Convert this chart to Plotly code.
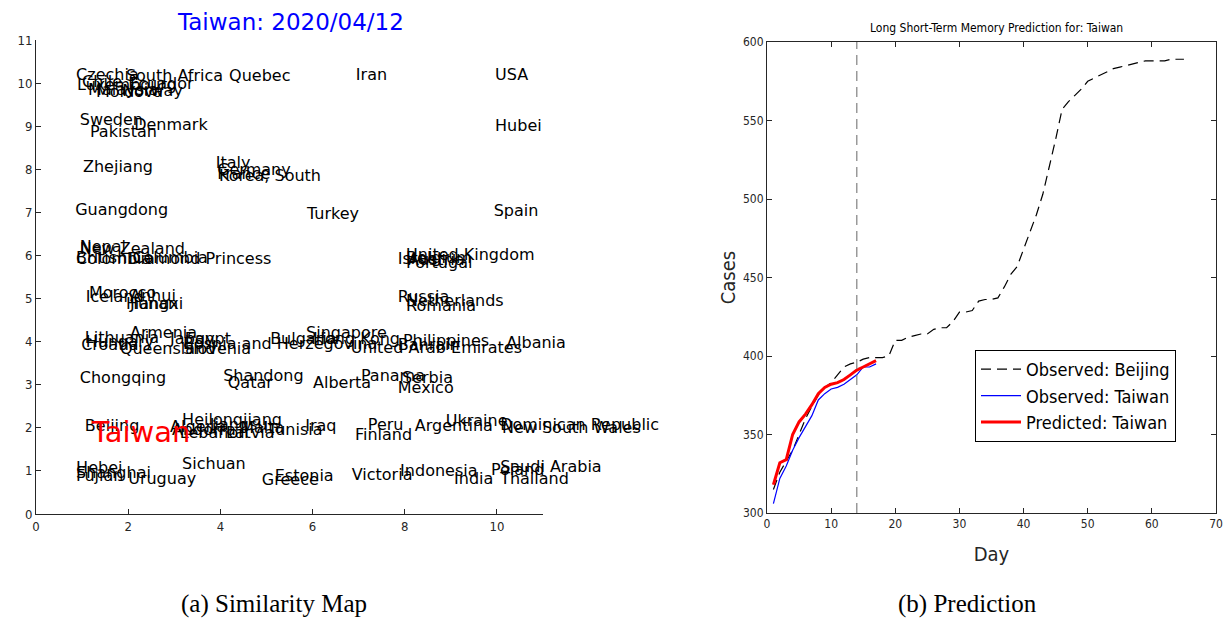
import plotly.graph_objects as go

# ---------------- Data: similarity map ----------------
names = ["Czechia", "Luxembourg", "Chile", "Malaysia", "Ecuador", "Norway", "Moldova",
         "South Africa", "Quebec", "Iran", "USA", "Sweden", "Pakistan", "Denmark", "Hubei",
         "Zhejiang", "Italy", "Germany", "France", "Korea, South", "Guangdong", "Turkey", "Spain",
         "Nepal", "New Zealand", "British Columbia", "Colombia", "Diamond Princess",
         "United Kingdom", "Israel", "Belgium", "Portugal", "Austria",
         "Morocco", "Iceland", "Anhui", "Hunan", "Jiangxi", "Russia", "Netherlands", "Romania",
         "Lithuania", "Hungary", "Croatia", "Armenia", "Queensland", "Japan", "Egypt",
         "Bosnia and Herzegovina", "Slovenia", "Bulgaria", "Singapore", "Hong Kong",
         "United Arab Emirates", "Philippines", "Bahrain", "Albania",
         "Chongqing", "Shandong", "Qatar", "Alberta", "Panama", "Serbia", "Mexico",
         "Beijing", "Heilongjiang", "Algeria", "Andorra", "Lebanon", "Jiangsu", "Latvia",
         "Tunisia", "Malta", "Iraq", "Peru", "Finland", "Argentina", "Ukraine",
         "Dominican Republic", "New South Wales",
         "Hebei", "Shanghai", "Fujian", "Sichuan", "Uruguay", "Estonia", "Greece", "Victoria",
         "Indonesia", "India", "Poland", "Saudi Arabia", "Thailand"]
map_x = [0.87, 0.89, 1.00, 1.13, 2.00, 1.87, 1.30,
         1.95, 4.19, 6.94, 9.96, 0.95, 1.17, 2.13, 9.96,
         1.02, 3.90, 3.93, 3.93, 3.97, 0.85, 5.88, 9.93,
         0.95, 0.95, 0.87, 0.87, 2.00,
         8.03, 7.85, 8.03, 8.03, 8.07,
         1.15, 1.08, 2.04, 1.95, 2.04, 7.85, 8.03, 8.03,
         1.06, 1.08, 0.98, 2.04, 1.82, 2.91, 3.23,
         3.19, 3.19, 5.08, 5.86, 6.01,
         6.83, 7.96, 7.85, 10.20,
         0.95, 4.06, 4.16, 6.01, 7.05, 7.94, 7.85,
         1.06, 3.17, 2.91, 2.95, 3.12, 3.77, 4.12,
         5.03, 4.43, 5.84, 7.20, 6.92, 8.22, 8.89,
         10.07, 10.11,
         0.87, 0.87, 0.87, 3.17, 2.00, 5.18, 4.90, 6.85,
         7.90, 9.07, 9.87, 10.07, 10.07]
map_y = [10.16, 9.93, 10.00, 9.81, 9.95, 9.79, 9.77,
         10.14, 10.14, 10.16, 10.16, 9.12, 8.84, 9.00, 8.98,
         8.03, 8.12, 7.96, 7.87, 7.82, 7.03, 6.94, 7.01,
         6.17, 6.13, 5.92, 5.89, 5.89,
         5.99, 5.89, 5.92, 5.80, 5.87,
         5.10, 5.01, 5.03, 4.85, 4.85, 5.01, 4.92, 4.80,
         4.06, 3.97, 3.90, 4.18, 3.81, 4.04, 4.04,
         3.92, 3.81, 4.04, 4.18, 4.04,
         3.83, 3.99, 3.90, 3.94,
         3.13, 3.18, 3.02, 3.02, 3.18, 3.13, 2.90,
         2.02, 2.16, 2.00, 1.93, 1.86, 2.04, 1.86,
         1.93, 1.97, 2.02, 2.04, 1.81, 2.02, 2.13,
         2.04, 1.97,
         1.04, 0.93, 0.86, 1.14, 0.79, 0.86, 0.77, 0.88,
         0.97, 0.79, 1.00, 1.07, 0.79]
target_name = "Taiwan"
target_x = [1.21]
target_y = [1.83]

# ---------------- Data: LSTM prediction ----------------
beijing_days = list(range(1, 66))
beijing_cases = [315, 326, 333, 340, 350, 360, 368, 375, 380, 383,
                 388, 393, 395, 396, 398, 399, 399, 399, 400, 410,
                 410, 412, 413, 414, 414, 417, 418, 418, 422, 428,
                 428, 429, 435, 436, 436, 437, 444, 452, 457, 468,
                 480, 490, 503, 520, 538, 557, 562, 566, 570, 575,
                 577, 579, 581, 583, 584, 585, 586, 587, 588, 588,
                 588, 588, 589, 589, 589]
taiwan_days = list(range(1, 18))
taiwan_obs = [306, 322, 330, 340, 348, 355, 362, 372, 376, 379,
              380, 382, 385, 388, 393, 393, 395]
taiwan_pred = [318, 332, 334, 350, 358, 363, 369, 376, 380, 382,
               383, 385, 388, 391, 393, 395, 397]
split_day = 14

W, H = 1231, 621
LFONT = "DejaVu Sans"
NFONT = "DejaVu Sans Condensed, Liberation Sans Narrow, Liberation Sans, Arial"
axcol = "#262626"

fig = go.Figure()

fig.add_trace(go.Scatter(
    x=map_x, y=map_y, text=names, mode="text", textposition="middle right",
    textfont=dict(family=LFONT, size=16, color="black"), cliponaxis=False,
    xaxis="x", yaxis="y", showlegend=False, hoverinfo="skip"))
fig.add_trace(go.Scatter(
    x=target_x, y=target_y, text=[target_name], mode="text", textposition="middle right",
    textfont=dict(family=LFONT, size=29, color="red"), cliponaxis=False,
    xaxis="x", yaxis="y", showlegend=False, hoverinfo="skip"))

fig.add_trace(go.Scatter(
    x=beijing_days, y=beijing_cases, mode="lines", name="Observed: Beijing",
    line=dict(color="black", width=1.2, dash="10px,6px"), xaxis="x2", yaxis="y2"))
fig.add_trace(go.Scatter(
    x=taiwan_days, y=taiwan_obs, mode="lines", name="Observed: Taiwan",
    line=dict(color="blue", width=1.2), xaxis="x2", yaxis="y2"))
fig.add_trace(go.Scatter(
    x=taiwan_days, y=taiwan_pred, mode="lines", name="Predicted: Taiwan",
    line=dict(color="red", width=3), xaxis="x2", yaxis="y2"))

fig.add_shape(type="line", xref="x2", yref="y2", x0=split_day, x1=split_day,
              y0=300, y1=600, line=dict(color="#808080", width=1.2, dash="10px,6px"))

left_dom_x = [36 / W, 543 / W]
left_dom_y = [1 - 514 / H, 1 - 40 / H]
right_dom_x = [767 / W, 1216 / W]
right_dom_y = [1 - 513 / H, 1 - 42 / H]

common = dict(showgrid=False, zeroline=False, showline=True, linecolor=axcol,
              linewidth=1, ticks="inside", tickcolor=axcol, ticklen=5, automargin=False)

fig.update_layout(
    template="none",
    width=W, height=H,
    margin=dict(l=0, r=0, t=0, b=0, pad=0),
    paper_bgcolor="white", plot_bgcolor="white",
    showlegend=True,
    xaxis=dict(domain=left_dom_x, range=[0, 11], tickvals=[0, 2, 4, 6, 8, 10],
               tickfont=dict(family=NFONT, size=13, color=axcol), anchor="y", **common),
    yaxis=dict(domain=left_dom_y, range=[0, 11], tickvals=list(range(0, 12)),
               tickfont=dict(family=NFONT, size=13, color=axcol), anchor="x", **common),
    xaxis2=dict(domain=right_dom_x, range=[0, 70], dtick=10, mirror="ticks",
                tickfont=dict(family=NFONT, size=12, color=axcol), anchor="y2",
                title=dict(text="Day", font=dict(family=NFONT, size=20, color=axcol), standoff=16),
                **common),
    yaxis2=dict(domain=right_dom_y, range=[300, 600], dtick=50, mirror="ticks",
                tickfont=dict(family=NFONT, size=12, color=axcol), anchor="x2",
                title=dict(text="Cases", font=dict(family=NFONT, size=20, color=axcol), standoff=1),
                **common),
    legend=dict(x=975 / W, y=1 - 350 / H, xanchor="left", yanchor="top",
                bgcolor="white", bordercolor="black", borderwidth=1,
                font=dict(family=NFONT, size=18, color="black"),
                tracegroupgap=0, itemwidth=40),
    annotations=[
        dict(text="Taiwan: 2020/04/12", x=290 / W, y=1 - 22 / H, xref="paper", yref="paper",
             showarrow=False, font=dict(family=LFONT, size=23, color="blue"),
             xanchor="center", yanchor="middle"),
        dict(text="Long Short-Term Memory Prediction for: Taiwan", x=996 / W, y=1 - 28 / H,
             xref="paper", yref="paper", showarrow=False,
             font=dict(family=NFONT, size=12, color="black"), xanchor="center", yanchor="middle"),
        dict(text="(a) Similarity Map", x=274 / W, y=1 - 604 / H, xref="paper", yref="paper",
             showarrow=False, font=dict(family="Liberation Serif, Times New Roman", size=25,
                                        color="black"),
             xanchor="center", yanchor="middle"),
        dict(text="(b) Prediction", x=967 / W, y=1 - 604 / H, xref="paper", yref="paper",
             showarrow=False, font=dict(family="Liberation Serif, Times New Roman", size=25,
                                        color="black"),
             xanchor="center", yanchor="middle"),
    ],
)

fig.write_html("out.html")
